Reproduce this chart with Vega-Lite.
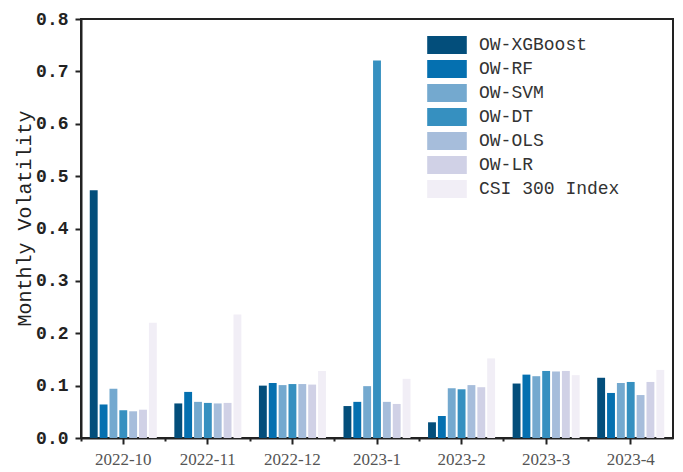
{
  "$schema": "https://vega.github.io/schema/vega-lite/v6.json",
  "width": 592,
  "height": 419,
  "autosize": {"type": "none"},
  "padding": {"left": 81, "top": 19, "right": 10, "bottom": 34},
  "background": "white",
  "config": {
    "view": {"stroke": "#222", "strokeWidth": 2},
    "axis": {"grid": false}
  },
  "data": {
    "values": [
      {"month": "2022-10", "model": "OW-XGBoost", "v": 0.473},
      {"month": "2022-10", "model": "OW-RF", "v": 0.064},
      {"month": "2022-10", "model": "OW-SVM", "v": 0.094},
      {"month": "2022-10", "model": "OW-DT", "v": 0.053},
      {"month": "2022-10", "model": "OW-OLS", "v": 0.051},
      {"month": "2022-10", "model": "OW-LR", "v": 0.054},
      {"month": "2022-10", "model": "CSI 300 Index", "v": 0.220},
      {"month": "2022-11", "model": "OW-XGBoost", "v": 0.066},
      {"month": "2022-11", "model": "OW-RF", "v": 0.088},
      {"month": "2022-11", "model": "OW-SVM", "v": 0.069},
      {"month": "2022-11", "model": "OW-DT", "v": 0.067},
      {"month": "2022-11", "model": "OW-OLS", "v": 0.066},
      {"month": "2022-11", "model": "OW-LR", "v": 0.067},
      {"month": "2022-11", "model": "CSI 300 Index", "v": 0.236},
      {"month": "2022-12", "model": "OW-XGBoost", "v": 0.100},
      {"month": "2022-12", "model": "OW-RF", "v": 0.105},
      {"month": "2022-12", "model": "OW-SVM", "v": 0.101},
      {"month": "2022-12", "model": "OW-DT", "v": 0.103},
      {"month": "2022-12", "model": "OW-OLS", "v": 0.103},
      {"month": "2022-12", "model": "OW-LR", "v": 0.102},
      {"month": "2022-12", "model": "CSI 300 Index", "v": 0.128},
      {"month": "2023-1", "model": "OW-XGBoost", "v": 0.061},
      {"month": "2023-1", "model": "OW-RF", "v": 0.069},
      {"month": "2023-1", "model": "OW-SVM", "v": 0.099},
      {"month": "2023-1", "model": "OW-DT", "v": 0.721},
      {"month": "2023-1", "model": "OW-OLS", "v": 0.069},
      {"month": "2023-1", "model": "OW-LR", "v": 0.065},
      {"month": "2023-1", "model": "CSI 300 Index", "v": 0.113},
      {"month": "2023-2", "model": "OW-XGBoost", "v": 0.030},
      {"month": "2023-2", "model": "OW-RF", "v": 0.042},
      {"month": "2023-2", "model": "OW-SVM", "v": 0.095},
      {"month": "2023-2", "model": "OW-DT", "v": 0.093},
      {"month": "2023-2", "model": "OW-OLS", "v": 0.101},
      {"month": "2023-2", "model": "OW-LR", "v": 0.097},
      {"month": "2023-2", "model": "CSI 300 Index", "v": 0.152},
      {"month": "2023-3", "model": "OW-XGBoost", "v": 0.104},
      {"month": "2023-3", "model": "OW-RF", "v": 0.121},
      {"month": "2023-3", "model": "OW-SVM", "v": 0.118},
      {"month": "2023-3", "model": "OW-DT", "v": 0.128},
      {"month": "2023-3", "model": "OW-OLS", "v": 0.127},
      {"month": "2023-3", "model": "OW-LR", "v": 0.128},
      {"month": "2023-3", "model": "CSI 300 Index", "v": 0.120},
      {"month": "2023-4", "model": "OW-XGBoost", "v": 0.115},
      {"month": "2023-4", "model": "OW-RF", "v": 0.086},
      {"month": "2023-4", "model": "OW-SVM", "v": 0.105},
      {"month": "2023-4", "model": "OW-DT", "v": 0.107},
      {"month": "2023-4", "model": "OW-OLS", "v": 0.082},
      {"month": "2023-4", "model": "OW-LR", "v": 0.107},
      {"month": "2023-4", "model": "CSI 300 Index", "v": 0.130}
    ]
  },
  "layer": [
    {
      "mark": {"type": "bar"},
      "encoding": {
        "x": {
          "field": "month", "type": "nominal", "sort": null,
          "scale": {"paddingInner": 0, "paddingOuter": 0},
          "axis": {
            "title": null, "orient": "bottom",
            "domain": true, "domainColor": "#222", "domainWidth": 2,
            "ticks": true, "tickColor": "#222", "tickWidth": 2, "tickSize": 6,
            "labelAngle": 0, "labelFont": "Liberation Serif", "labelFontSize": 17,
            "labelColor": "#555", "labelPadding": 7
          }
        },
        "xOffset": {
          "field": "model",
          "sort": ["OW-XGBoost", "OW-RF", "OW-SVM", "OW-DT", "OW-OLS", "OW-LR", "CSI 300 Index"],
          "scale": {"paddingInner": 0.2, "paddingOuter": 0.89}
        },
        "y": {
          "field": "v", "type": "quantitative",
          "scale": {"domain": [0, 0.8], "nice": false},
          "axis": {
            "title": "Monthly Volatility",
            "titleFont": "Liberation Mono", "titleFontSize": 20, "titleFontWeight": "normal",
            "titleColor": "#222", "titleAngle": -90, "titleX": -57, "titleY": 199,
            "titleAlign": "center", "titleBaseline": "middle",
            "values": [0, 0.05, 0.1, 0.15, 0.2, 0.25, 0.3, 0.35, 0.4, 0.45, 0.5, 0.55, 0.6, 0.65, 0.7, 0.75, 0.8],
            "labelExpr": "round(datum.value*100) % 10 == 0 ? format(datum.value, '.1f') : ''",
            "tickSize": {"condition": {"test": "round(datum.value*100) % 10 == 0", "value": 6}, "value": 3},
            "domain": true, "domainColor": "#222", "domainWidth": 2,
            "tickColor": "#222", "tickWidth": 2,
            "labelFont": "Liberation Mono", "labelFontSize": 18, "labelFontWeight": "bold",
            "labelColor": "#222", "labelPadding": 7
          }
        },
        "color": {
          "field": "model", "type": "nominal",
          "scale": {
            "domain": ["OW-XGBoost", "OW-RF", "OW-SVM", "OW-DT", "OW-OLS", "OW-LR", "CSI 300 Index"],
            "range": ["#034e7b", "#0570b0", "#74a9cf", "#3690c0", "#a6bddb", "#d0d1e6", "#f1eef6"]
          },
          "legend": {
            "title": null, "orient": "none", "legendX": 357, "legendY": 17,
            "padding": 0,
            "symbolType": "M-2.2,-1L2.2,-1L2.2,1L-2.2,1Z",
            "symbolSize": 324, "symbolStrokeWidth": 0, "symbolOpacity": 1,
            "labelFont": "Liberation Mono", "labelFontSize": 18, "labelColor": "#333",
            "labelOffset": 23, "rowPadding": 6
          }
        }
      }
    },
    {
      "mark": {"type": "bar", "opacity": 0},
      "encoding": {
        "x": {
          "field": "month", "type": "nominal", "sort": null,
          "axis": {
            "title": null, "orient": "bottom", "bandPosition": 0,
            "domain": false, "labels": false,
            "ticks": true, "tickColor": "#222", "tickWidth": 2, "tickSize": 3
          }
        },
        "y": {"field": "v", "type": "quantitative"}
      }
    }
  ],
  "resolve": {"axis": {"x": "independent"}}
}
